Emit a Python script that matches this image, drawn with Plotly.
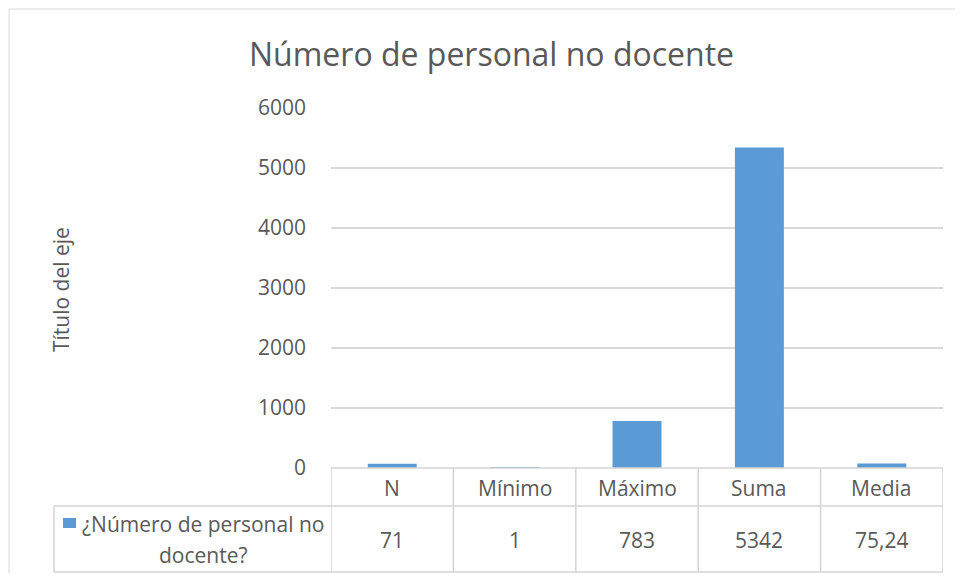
import plotly.graph_objects as go

categories = ["N", "Mínimo", "Máximo", "Suma", "Media"]
values = [71, 1, 783, 5342, 75.24]
series_name = ["¿Número de personal no", "docente?"]
y_ticks = [0, 1000, 2000, 3000, 4000, 5000, 6000]

# the page body has an 8px margin on each side; keep the figure inside it
OFF = 8
W, H = 963 - 2 * OFF, 581 - 2 * OFF
L, R, T, B = 331, 943, 108, 468
FONT = "Open Sans"
TXT = "#595959"
GRID = "#d9d9d9"
BORDER = "#d4d4d4"


def px(x):
    return (x - L) / (R - L)


def py(y):
    return (B - y) / (B - T)


fig = go.Figure(go.Bar(
    x=categories, y=values,
    marker_color="#5b9bd5", marker_line_width=0,
    width=0.4, showlegend=False, hoverinfo="x+y",
))

shapes = []
# outer chart border (top and left edges are the only ones in view)
shapes.append(dict(type="line", xref="paper", yref="paper",
                   x0=px(9), x1=px(963), y0=py(9), y1=py(9),
                   line=dict(color=GRID, width=1)))
shapes.append(dict(type="line", xref="paper", yref="paper",
                   x0=px(9), x1=px(9), y0=py(9), y1=py(581),
                   line=dict(color=GRID, width=1)))
# data table lines
n = len(categories)
shapes.append(dict(type="line", xref="x", yref="paper", x0=-0.5, x1=n - 0.5,
                   y0=py(B), y1=py(B), line=dict(color=BORDER, width=1.5)))
for yy in [506, 572]:
    shapes.append(dict(type="line", xref="paper", yref="paper", x0=px(54), x1=1,
                       y0=py(yy), y1=py(yy), line=dict(color=BORDER, width=1.5)))
for i in range(n + 1):
    shapes.append(dict(type="line", xref="x", yref="paper", x0=i - 0.5, x1=i - 0.5,
                       y0=py(B), y1=py(572), line=dict(color=BORDER, width=1.5)))
shapes.append(dict(type="line", xref="paper", yref="paper", x0=px(54), x1=px(54),
                   y0=py(506), y1=py(572), line=dict(color=BORDER, width=1.5)))
# legend key
shapes.append(dict(type="rect", xref="paper", yref="paper",
                   x0=px(63), x1=px(76), y0=py(518), y1=py(528),
                   fillcolor="#5b9bd5", line=dict(width=0)))


def note(x, xref, y, text, size=21, **kw):
    return dict(x=x, xref=xref, y=y, yref="paper", text=text, showarrow=False,
                xanchor="center", yanchor="middle",
                font=dict(size=size, color=TXT, family=FONT), **kw)


annotations = []
for c, v in zip(categories, values):
    annotations.append(note(c, "x", py(488), c))
    annotations.append(note(c, "x", py(540), str(v).replace(".", ",")))
annotations.append(note(px(203), "paper", py(524), series_name[0]))
annotations.append(note(px(203), "paper", py(555), series_name[1]))
annotations.append(note(px(491), "paper", py(53), "Número de personal no docente", size=32))
annotations.append(note(px(61), "paper", py(290), "Título del eje", textangle=-90))

fig.update_layout(
    width=W, height=H,
    margin=dict(l=L - OFF, r=OFF + W - R, t=T - OFF, b=OFF + H - B, pad=0),
    paper_bgcolor="white", plot_bgcolor="white",
    font=dict(family=FONT, color=TXT),
    xaxis=dict(range=[-0.5, n - 0.5], showticklabels=False, showgrid=False,
               zeroline=False, showline=False, fixedrange=True),
    yaxis=dict(range=[0, 6000], tickvals=y_ticks, showgrid=True, gridcolor=GRID,
               gridwidth=1.5, zeroline=False, showline=False, ticks="",
               ticklabelstandoff=24, tickfont=dict(size=21, color=TXT, family=FONT)),
    shapes=shapes, annotations=annotations,
    bargap=0.6,
)

fig.write_html("out.html")
